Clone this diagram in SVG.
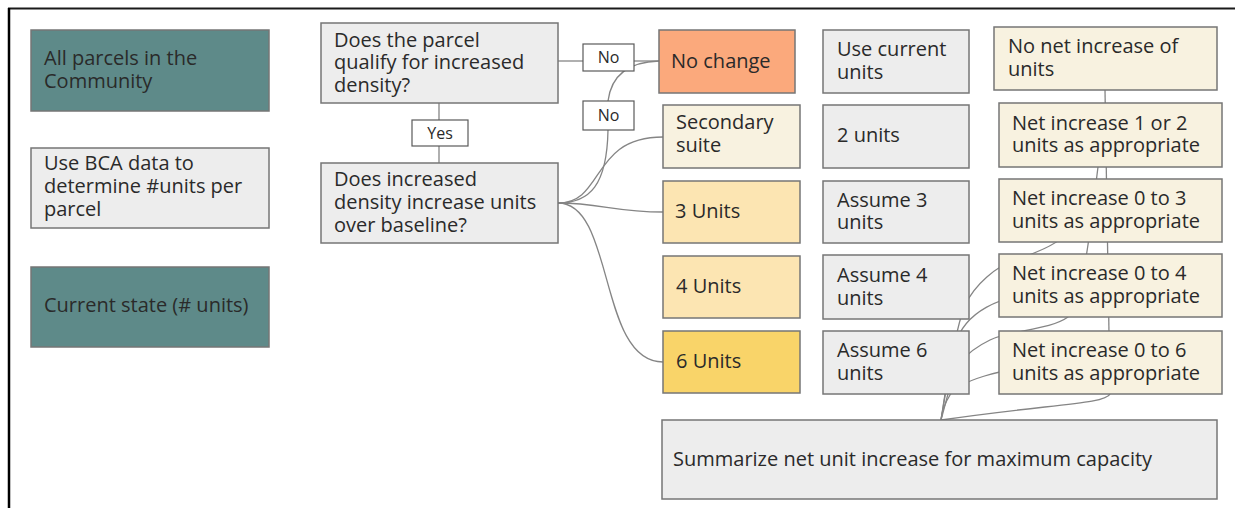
<svg xmlns="http://www.w3.org/2000/svg" width="1235" height="508" viewBox="0 0 1235 508">
<style>
  .t { font-family: "Open Sans", "Noto Sans", "Liberation Sans", sans-serif; font-size: 20px; fill: #2a2a2a; }
  .lbl { font-family: "Open Sans", "Noto Sans", "Liberation Sans", sans-serif; font-size: 16px; fill: #2a2a2a; text-anchor: middle; }
  .box { stroke: #767676; stroke-width: 1.5; }
  .teal { fill: #5E8A89; }
  .gray { fill: #EDEDED; }
  .cream { fill: #F8F2E0; }
  .salmon { fill: #FBA97C; }
  .yellow { fill: #FCE5B2; }
  .gold { fill: #F9D469; }
  .tag { fill: #FFFFFF; stroke: #5a5a5a; stroke-width: 1.2; }
  .conn { fill: none; stroke: #858585; stroke-width: 1.3; }
</style>
<rect x="0" y="0" width="1235" height="508" fill="#FFFFFF"/>
<g id="frame">
  <line x1="8" y1="8.5" x2="1235" y2="8.5" stroke="#1a1a1a" stroke-width="2"/>
  <line x1="9" y1="8" x2="9" y2="508" stroke="#000000" stroke-width="2.5"/>
</g>
<g id="connectors">
  <path class="conn" d="M558,61 L583,61"/>
  <path class="conn" d="M634,61 L659,61"/>
  <path class="conn" d="M439,103 L439,120"/>
  <path class="conn" d="M439,146 L439,163"/>
  <path class="conn" d="M608,101 C611,78 625,62 659,61"/>
  <path class="conn" d="M558,203 C590,203 607,185 608,130"/>
  <path class="conn" d="M558,203 C605,203 590,137 663,137"/>
  <path class="conn" d="M558,203 C600,203 615,212 663,212"/>
  <path class="conn" d="M558,203 C615,203 598,362 663,362"/>
  <path class="conn" d="M1105,90 L1110,394"/>
  <path class="conn" d="M1110,394 C1106,404 1050,404 941,420"/>
  <path class="conn" d="M1098,167 C1090,230 1085,290 1068,317 C1050,330 1010,330 990,340 C965,352 950,370 948,394 L941,420"/>
  <path class="conn" d="M1075,225 C1065,240 1045,250 1020,258 C995,266 975,285 965,305 C955,330 950,370 945,394 L941,420"/>
  <path class="conn" d="M1040,290 C1000,298 965,310 955,345 C950,365 946,390 941,420"/>
  <path class="conn" d="M1040,365 C1000,370 960,380 950,395 C945,403 942,410 941,420"/>
</g>
<g id="all-parcels">
  <rect class="box teal" x="31" y="30" width="238" height="81"/>
  <text class="t" x="44" y="65">All parcels in the</text>
  <text class="t" x="44" y="88">Community</text>
</g>
<g id="use-bca">
  <rect class="box gray" x="31" y="148" width="238" height="80"/>
  <text class="t" x="44" y="170">Use BCA data to</text>
  <text class="t" x="44" y="193">determine #units per</text>
  <text class="t" x="44" y="216">parcel</text>
</g>
<g id="current-state">
  <rect class="box teal" x="31" y="267" width="238" height="80"/>
  <text class="t" x="44" y="312">Current state (# units)</text>
</g>
<g id="q-qualify">
  <rect class="box gray" x="321" y="23" width="237" height="80"/>
  <text class="t" x="334" y="47">Does the parcel</text>
  <text class="t" x="334" y="69">qualify for increased</text>
  <text class="t" x="334" y="92">density?</text>
</g>
<g id="q-increase">
  <rect class="box gray" x="321" y="163" width="237" height="80"/>
  <text class="t" x="334" y="186">Does increased</text>
  <text class="t" x="334" y="209">density increase units</text>
  <text class="t" x="334" y="232">over baseline?</text>
</g>
<g id="label-no-1">
  <rect class="tag" x="583" y="44" width="51" height="27"/>
  <text class="lbl" x="608.5" y="63">No</text>
</g>
<g id="label-no-2">
  <rect class="tag" x="583" y="101" width="51" height="29"/>
  <text class="lbl" x="608.5" y="121">No</text>
</g>
<g id="label-yes">
  <rect class="tag" x="412" y="120" width="56" height="26"/>
  <text class="lbl" x="440" y="139">Yes</text>
</g>
<g id="no-change">
  <rect class="box salmon" x="659" y="30" width="136" height="63"/>
  <text class="t" x="671" y="68">No change</text>
</g>
<g id="secondary-suite">
  <rect class="box cream" x="663" y="105" width="137" height="63"/>
  <text class="t" x="676" y="129">Secondary</text>
  <text class="t" x="676" y="152">suite</text>
</g>
<g id="three-units">
  <rect class="box yellow" x="663" y="181" width="137" height="62"/>
  <text class="t" x="675" y="218">3 Units</text>
</g>
<g id="four-units">
  <rect class="box yellow" x="663" y="256" width="137" height="62"/>
  <text class="t" x="676" y="293">4 Units</text>
</g>
<g id="six-units">
  <rect class="box gold" x="663" y="331" width="137" height="62"/>
  <text class="t" x="676" y="368">6 Units</text>
</g>
<g id="use-current">
  <rect class="box gray" x="823" y="30" width="146" height="63"/>
  <text class="t" x="837" y="56">Use current</text>
  <text class="t" x="837" y="79">units</text>
</g>
<g id="two-units">
  <rect class="box gray" x="823" y="105" width="146" height="63"/>
  <text class="t" x="837" y="142">2 units</text>
</g>
<g id="assume-3">
  <rect class="box gray" x="823" y="181" width="146" height="62"/>
  <text class="t" x="837" y="207">Assume 3</text>
  <text class="t" x="837" y="229">units</text>
</g>
<g id="assume-4">
  <rect class="box gray" x="823" y="255" width="146" height="64"/>
  <text class="t" x="837" y="282">Assume 4</text>
  <text class="t" x="837" y="305">units</text>
</g>
<g id="assume-6">
  <rect class="box gray" x="823" y="331" width="146" height="63"/>
  <text class="t" x="837" y="357">Assume 6</text>
  <text class="t" x="837" y="380">units</text>
</g>
<g id="no-net">
  <rect class="box cream" x="994" y="27" width="223" height="63"/>
  <text class="t" x="1008" y="53">No net increase of</text>
  <text class="t" x="1008" y="76">units</text>
</g>
<g id="net-1-2">
  <rect class="box cream" x="999" y="103" width="223" height="64"/>
  <text class="t" x="1012" y="130">Net increase 1 or 2</text>
  <text class="t" x="1012" y="152">units as appropriate</text>
</g>
<g id="net-0-3">
  <rect class="box cream" x="999" y="179" width="223" height="63"/>
  <text class="t" x="1012" y="205">Net increase 0 to 3</text>
  <text class="t" x="1012" y="228">units as appropriate</text>
</g>
<g id="net-0-4">
  <rect class="box cream" x="999" y="254" width="223" height="63"/>
  <text class="t" x="1012" y="280">Net increase 0 to 4</text>
  <text class="t" x="1012" y="303">units as appropriate</text>
</g>
<g id="net-0-6">
  <rect class="box cream" x="999" y="331" width="223" height="63"/>
  <text class="t" x="1012" y="357">Net increase 0 to 6</text>
  <text class="t" x="1012" y="380">units as appropriate</text>
</g>
<g id="summarize">
  <rect class="box gray" x="662" y="420" width="555" height="79"/>
  <text class="t" x="673" y="466">Summarize net unit increase for maximum capacity</text>
</g>
</svg>
